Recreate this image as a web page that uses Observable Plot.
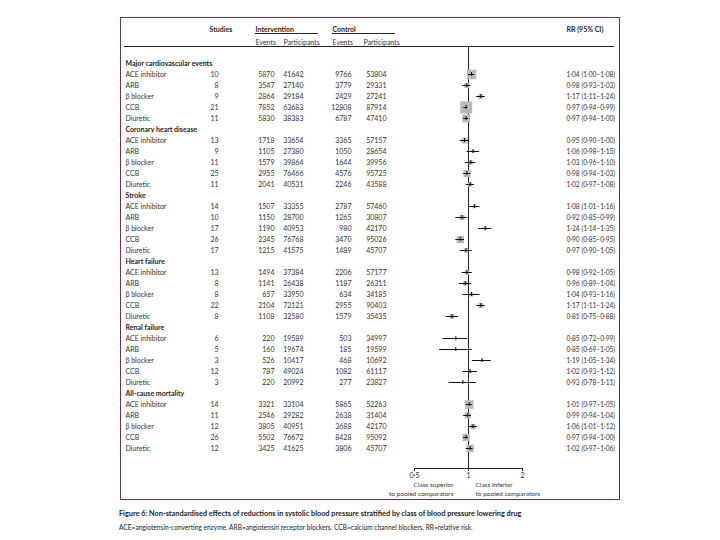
<!DOCTYPE html>
<html><head><meta charset="utf-8">
<script src="https://cdn.jsdelivr.net/npm/d3@7"></script>
<script src="https://cdn.jsdelivr.net/npm/@observablehq/plot@0.6"></script>
<style>
body{margin:0;background:#fff;}
#wrap{position:relative;width:720px;height:540px;font-family:Lato,"Noto Sans",sans-serif;}
#frame{position:absolute;left:120px;top:17px;width:500px;height:483px;border:1.5px solid #7b2d4f;box-sizing:border-box;}
.hl{position:absolute;height:0;border-top:0.8px solid #222;}
#chart{position:absolute;left:0;top:0;}
#cap{position:absolute;left:119px;top:505px;color:#222;line-height:10px;white-space:nowrap;}
#cap .t{font-size:7.3px;font-weight:bold;}
#cap .s{font-size:6.6px;}
g[aria-label="rr"] text, g[aria-label="rrhead"] text{letter-spacing:-0.3px;}
g[aria-label="side"] text{letter-spacing:-0.2px;}
</style></head><body>
<div id="wrap">
<div id="frame"></div>
<div class="hl" style="left:255px;top:33px;width:63px"></div>
<div class="hl" style="left:332px;top:33px;width:63px"></div>
<div class="hl" style="left:124px;top:46px;width:490px"></div>
<div id="chart"></div>
<div id="cap"><span class="t">Figure 6: Non-standardised effects of reductions in systolic blood pressure stratified by class of blood pressure lowering drug</span><br><span class="s">ACE=angiotensin-converting enzyme. ARB=angiotensin receptor blockers. CCB=calcium channel blockers. RR=relative risk.</span></div>
</div>
<script>
const outcomes = ["Major cardiovascular events", "Coronary heart disease", "Stroke", "Heart failure", "Renal failure", "All-cause mortality"];
const drugs = ["ACE inhibitor", "ARB", "β blocker", "CCB", "Diuretic"];
const studies = [[10,8,9,21,11],[13,9,11,25,11],[14,10,17,26,17],[13,8,8,22,8],[6,5,3,12,3],[14,11,12,26,12]];
const interventionEvents = [[5870,3547,2864,7852,5830],[1718,1105,1579,2955,2041],[1507,1150,1190,2345,1215],[1494,1141,657,2104,1108],[220,160,526,787,220],[3321,2546,3805,5502,3425]];
const interventionParticipants = [[41642,27140,29184,63683,38383],[33654,27380,39864,76466,40531],[33355,28700,40953,76768,41575],[37384,26438,33950,72121,32580],[19589,19674,10417,49024,20992],[33104,29282,40951,76672,41625]];
const controlEvents = [[9766,3779,2429,12808,6787],[3365,1050,1644,4576,2246],[2787,1265,980,3470,1489],[2206,1187,634,2955,1579],[503,185,468,1082,277],[5865,2638,3688,8428,3806]];
const controlParticipants = [[53804,29331,27241,87914,47410],[57157,28654,39956,95725,43588],[57460,30807,42170,95026,45707],[57177,26311,34185,90403,35435],[34997,19599,10692,61117,23827],[52263,31404,42170,95092,45707]];
const rr = [[1.04,0.98,1.17,0.97,0.97],[0.95,1.06,1.03,0.98,1.02],[1.08,0.92,1.24,0.90,0.97],[0.98,0.96,1.04,1.17,0.81],[0.85,0.85,1.19,1.02,0.93],[1.01,0.99,1.06,0.97,1.02]];
const rrLow = [[1.00,0.93,1.11,0.94,0.94],[0.90,0.98,0.96,0.94,0.97],[1.01,0.85,1.14,0.85,0.90],[0.92,0.89,0.93,1.11,0.75],[0.72,0.69,1.05,0.93,0.78],[0.97,0.94,1.01,0.94,0.97]];
const rrHigh = [[1.08,1.03,1.24,0.99,1.00],[1.00,1.15,1.10,1.03,1.08],[1.16,0.99,1.35,0.95,1.05],[1.05,1.04,1.16,1.24,0.88],[0.99,1.05,1.34,1.12,1.11],[1.05,1.04,1.12,1.00,1.06]];
const weight = [[20,6,5,32,14],[8,2,4,11,4],[3,6,3,12,4],[4,5,3.5,5.5,5],[1,1,1,2,1],[16,8,6,12,13]];
const xTicks = [0.5, 1, 2];
const sideLabels = ["Class superior\nto pooled comparators", "Class inferior\nto pooled comparators"];
const headTop = ["Studies", "Intervention", "Control"];
const rrHead = "RR (95% CI)";
const headSub = ["Events", "Participants", "Events", "Participants"];

const rows = [];
outcomes.forEach((o, i) => {
  rows.push({key: "h" + i, label: o, header: true});
  drugs.forEach((d, j) => rows.push({
    key: `r${i}-${j}`, label: d, header: false,
    studies: studies[i][j], ie: interventionEvents[i][j], ip: interventionParticipants[i][j],
    ce: controlEvents[i][j], cp: controlParticipants[i][j],
    rr: rr[i][j], lo: rrLow[i][j], hi: rrHigh[i][j], w: weight[i][j]
  }));
});
const dataRows = rows.filter(r => !r.header);
const headRows = rows.filter(r => r.header);
const fmt = v => v.toFixed(2).replace(".", "·");
const FL = 414; // frame left in page px
const txt = {fill: "#333", fontSize: 7};
const head = {fill: "#1e1e1e", fontSize: 7, fontWeight: "bold"};

const topDx = [209, 255, 332];
const subDx = [255, 283, 332, 363];
const numCols = [["studies", 218], ["ie", 274], ["ip", 303], ["ce", 351], ["cp", 386]];

const marks = [
  Plot.frame({anchor: "bottom", stroke: "#222", strokeWidth: 1}),
  Plot.ruleX([1], {stroke: "#222", strokeWidth: 1}),
  Plot.dot(dataRows, {x: "rr", y: "key", r: "w", symbol: "square", fill: "#b9b9b9", stroke: null}),
  Plot.ruleY(dataRows, {y: "key", x1: "lo", x2: "hi", stroke: "#111", strokeWidth: 1}),
  Plot.ruleX(dataRows, {x: "rr", y1: "key", y2: "key", insetTop: -2, insetBottom: -2, stroke: "#111", strokeWidth: 1}),
  Plot.text(headRows, {y: "key", text: "label", frameAnchor: "left", textAnchor: "start", dx: 125 - FL, ...head}),
  Plot.text(dataRows, {y: "key", text: "label", frameAnchor: "left", textAnchor: "start", dx: 125 - FL, ...txt}),
  ...numCols.map(([k, px]) => Plot.text(dataRows, {y: "key", text: d => String(d[k]), frameAnchor: "left", textAnchor: "end", dx: px - FL, ...txt})),
  Plot.text(dataRows, {y: "key", text: d => `${fmt(d.rr)} (${fmt(d.lo)}–${fmt(d.hi)})`, frameAnchor: "left", textAnchor: "start", dx: 566 - FL, ariaLabel: "rr", ...txt, fontSize: 6.6}),
  Plot.text([rrHead], {frameAnchor: "top-left", textAnchor: "start", dx: 566 - FL, dy: 27 - 46, ariaLabel: "rrhead", ...head}),
  Plot.text([sideLabels[0]], {frameAnchor: "bottom", textAnchor: "end", lineAnchor: "top", dx: -15, dy: 12, lineHeight: 1.35, ariaLabel: "side", ...txt, fontSize: 6.5}),
  Plot.text([sideLabels[1]], {frameAnchor: "bottom", textAnchor: "start", lineAnchor: "top", dx: 7, dy: 12, lineHeight: 1.35, ariaLabel: "side", ...txt, fontSize: 6.5})
];
headTop.forEach((h, i) => marks.push(Plot.text([h], {frameAnchor: "top-left", textAnchor: "start", dx: topDx[i] - FL, dy: 27 - 46, ...head})));
headSub.forEach((h, i) => marks.push(Plot.text([h], {frameAnchor: "top-left", textAnchor: "start", dx: subDx[i] - FL, dy: 40 - 46, ...txt})));

const chart = Plot.plot({
  width: 720, height: 500,
  marginLeft: FL, marginRight: 198, marginTop: 46, marginBottom: 32,
  style: {fontFamily: "Lato, 'Noto Sans', sans-serif", fontSize: "7px", color: "#2a2a2a", background: "transparent"},
  x: {type: "log", domain: [0.5, 2], ticks: xTicks, tickFormat: d => String(d).replace(".", "·"), label: null, tickSize: 3, tickPadding: 2},
  y: {type: "point", domain: rows.map(r => r.key), range: [53, 458], axis: null},
  r: {type: "sqrt", domain: [0, 32], range: [0, 6.77]},
  marks
});
document.getElementById("chart").appendChild(chart);
</script>
</body></html>
